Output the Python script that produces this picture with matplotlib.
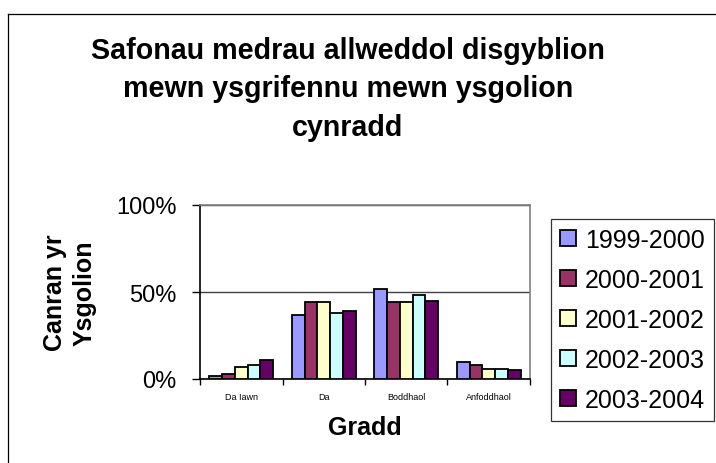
import matplotlib
matplotlib.use("Agg")
import matplotlib.pyplot as plt
from matplotlib.patches import Patch
from matplotlib.lines import Line2D
import numpy as np

plt.rcParams['font.family'] = ['Liberation Sans', 'DejaVu Sans']

categories = ["Da Iawn", "Da", "Boddhaol", "Anfoddhaol"]
series_names = ["1999-2000", "2000-2001", "2001-2002", "2002-2003", "2003-2004"]
values_1999 = [2, 37, 52, 10]
values_2000 = [3, 44, 44, 8]
values_2001 = [7, 44, 44, 6]
values_2002 = [8, 38, 48, 6]
values_2003 = [11, 39, 45, 5]
series_values = [values_1999, values_2000, values_2001, values_2002, values_2003]
colors = ["#9999FF", "#993366", "#FFFFCC", "#CCFFFF", "#660066"]
yticks = [0, 50, 100]
ytick_labels = ["0%", "50%", "100%"]

W, H = 716, 464
fig = plt.figure(figsize=(W / 100, H / 100), dpi=100)
fig.patch.set_facecolor("white")

# outer chart border (left and top visible)
fig.add_artist(Line2D([8 / W, 8 / W], [0, 1 - 15 / H], transform=fig.transFigure,
                      color="black", lw=0.9))
fig.add_artist(Line2D([8 / W, 1], [1 - 15 / H, 1 - 15 / H], transform=fig.transFigure,
                      color="black", lw=0.9))

ax = fig.add_axes([200 / W, 1 - 380 / H, 330 / W, 174 / H])
n = len(series_names)
bw = 0.155
x = np.arange(len(categories))
for i, (name, vals, c) in enumerate(zip(series_names, series_values, colors)):
    ax.bar(x + (i - (n - 1) / 2) * bw, vals, width=bw, color=c, edgecolor="black",
           linewidth=1.3, label=name, zorder=3)

ax.set_xlim(-0.5, len(categories) - 0.5)
ax.set_ylim(0, 100)
ax.set_yticks(yticks)
ax.set_yticklabels(ytick_labels, fontsize=17)
ax.tick_params(axis="y", length=6, width=1, direction="out", pad=11, colors="black")
ax.yaxis.grid(True, color="#404040", linewidth=1, zorder=1)

ax.set_xticks(np.arange(len(categories) + 1) - 0.5)
ax.set_xticklabels([])
ax.set_xticks(x, minor=True)
ax.set_xticklabels(categories, minor=True, fontsize=6.5)
ax.tick_params(axis="x", which="major", length=4, width=1, direction="out")
ax.tick_params(axis="x", which="minor", length=0, pad=9)

for s in ["top", "right"]:
    ax.spines[s].set_color("#808080")
    ax.spines[s].set_linewidth(1.2)
for s in ["left", "bottom"]:
    ax.spines[s].set_color("black")
    ax.spines[s].set_linewidth(1.2)

fig.text(348 / W, 1 - 37 / H,
         "Safonau medrau allweddol disgyblion\nmewn ysgrifennu mewn ysgolion\ncynradd",
         ha="center", va="top", fontsize=20.6, fontweight="bold", linespacing=1.47)

fig.text(70 / W, 1 - 293 / H, "Canran yr\nYsgolion", rotation=90, ha="center",
         va="center", fontsize=18, fontweight="bold", multialignment="center",
         linespacing=1.3)

fig.text(365 / W, 1 - 435 / H, "Gradd", ha="center", va="baseline",
         fontsize=18, fontweight="bold")

handles = [Patch(facecolor=c, edgecolor="black", linewidth=1.3) for c in colors]
leg = fig.legend(handles, series_names, loc="upper left",
                 bbox_to_anchor=(551 / W, 1 - 220 / H), fontsize=18,
                 frameon=True, fancybox=False, edgecolor="black",
                 handlelength=0.65, handleheight=0.65, handletextpad=0.35,
                 labelspacing=0.64, borderpad=0.35, borderaxespad=0)
leg.get_frame().set_linewidth(0.9)

fig.savefig("out.png", dpi=100, facecolor="white")
